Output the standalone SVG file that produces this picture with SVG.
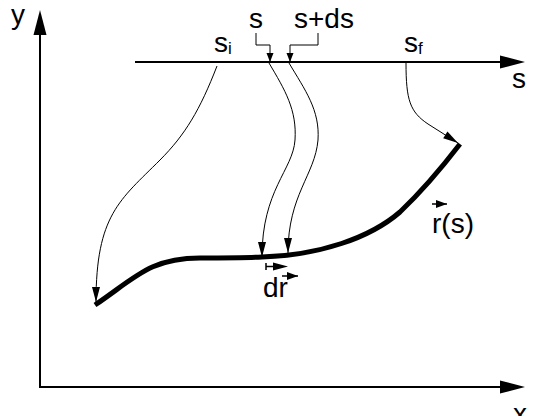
<svg xmlns="http://www.w3.org/2000/svg" width="537" height="416" viewBox="0 0 537 416">
<style>
text{font-family:"Liberation Sans",Arial,sans-serif;font-size:28px;fill:#000}
.sub{font-size:17px}
.thin{fill:none;stroke:#000;stroke-width:1}
.vec{fill:none;stroke:#000;stroke-width:1.5}
.axis{fill:none;stroke:#000;stroke-width:2}
.curve{fill:none;stroke:#000;stroke-width:5;stroke-linejoin:round}
</style>
<defs>
<marker id="ah" markerUnits="userSpaceOnUse" markerWidth="16" markerHeight="9" refX="15" refY="4" orient="auto" overflow="visible">
<path d="M0,0 L15,4 L0,8 z" fill="#000"/>
</marker>
<marker id="big" markerUnits="userSpaceOnUse" markerWidth="26" markerHeight="14" refX="1" refY="6.5" orient="auto" overflow="visible">
<path d="M0,0 L25,6.5 L0,13 z" fill="#000"/>
</marker>
<marker id="sm" markerUnits="userSpaceOnUse" markerWidth="10" markerHeight="8" refX="9" refY="3.5" orient="auto" overflow="visible">
<path d="M0,0 L9,3.5 L0,7 z" fill="#000"/>
</marker>
<marker id="vh" markerUnits="userSpaceOnUse" markerWidth="12" markerHeight="8" refX="11" refY="4" orient="auto" overflow="visible">
<path d="M0,0 L11,4 L0,8 z" fill="#000"/>
</marker>
</defs>
<g id="axes">
<path class="axis" d="M40,35 L40,387 L501,387" marker-end="url(#big)"/>
<path d="M40,10 L46.5,35 L33.5,35 z" fill="#000"/>
<path class="axis" d="M135,62 L501,62" marker-end="url(#big)"/>
</g>
<g id="labels">
<text x="11" y="24">y</text>
<text x="513" y="423">x</text>
<text x="512" y="88">s</text>
<text x="249" y="28">s</text>
<text x="294" y="28">s+ds</text>
<text x="214" y="52">s<tspan class="sub" dy="2">i</tspan></text>
<text x="404" y="52">s<tspan class="sub" dy="2">f</tspan></text>
</g>
<g id="path-r">
<path class="curve" d="M95,305 C135,278 150,258 200,258 C230,258 245,258 262,257 C320,255 370,238 400,212 C420,193 440,170 460,144"/>
<text x="432" y="233">r(s)</text>
<path d="M432,204 L447,204" class="vec" marker-end="url(#vh)"/>
</g>
<g id="dr">
<path d="M266,263 L266,270 M266,266.5 L273,266.5" class="vec"/>
<path d="M273,262.5 L288,266.5 L273,270.5 z" fill="#000"/>
<text x="263" y="297">dr</text>
<path d="M282,276 L298,276" class="vec" marker-end="url(#vh)"/>
</g>
<g id="connectors">
<path class="thin" d="M256,33 L256,45 L270,45 L270,62" marker-end="url(#sm)"/>
<path class="thin" d="M318,33 L318,45 L290,45 L290,62" marker-end="url(#sm)"/>
<path class="thin" d="M217,66 C200,110 185,135 160,160 C120,200 96,215 96,302" marker-end="url(#ah)"/>
<path class="thin" d="M269,63 C285,90 297,110 295,140 C293,170 262,190 262,257" marker-end="url(#ah)"/>
<path class="thin" d="M289,63 C305,90 320,110 318,140 C315,175 288,195 288,253" marker-end="url(#ah)"/>
<path class="thin" d="M406,63 C406,100 410,112 428,124 L458,143" marker-end="url(#ah)"/>
</g>
</svg>
